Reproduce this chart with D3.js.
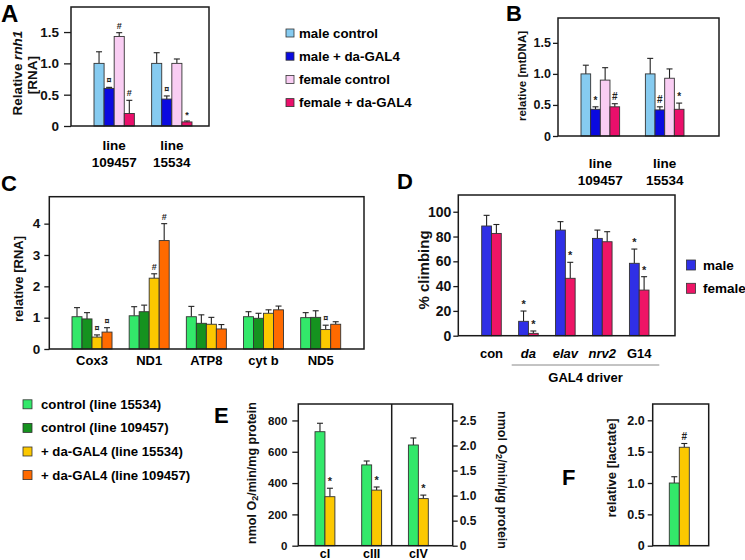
<!DOCTYPE html>
<html><head><meta charset="utf-8">
<script src="https://cdnjs.cloudflare.com/ajax/libs/d3/7.8.5/d3.min.js"></script>
<style>
body{margin:0;background:#fff;}
svg{display:block;font-family:"Liberation Sans",Arial,sans-serif;font-weight:bold;}
</style></head><body>
<script>
// ---------- DATA ----------
// Panels A & B
const sexSeries = ["male control","male + da-GAL4","female control","female + da-GAL4"];
const sexColors = ["#86cbf0","#0a0ae0","#f9cdf3","#ea0f6b"];
const lineTop = ["line","line"];
const lineIds = ["109457","15534"];
const aValues = [[1.0,0.60,1.43,0.20],[1.0,0.43,1.0,0.065]];
const aErr    = [[0.185,0.017,0.06,0.21],[0.17,0.05,0.07,0.015]];
const aMarks  = [["","¤","#","#"],["","¤","","*"]];
const bValues = [[1.0,0.43,0.90,0.47],[1.0,0.42,0.93,0.43]];
const bErr    = [[0.14,0.04,0.20,0.05],[0.25,0.05,0.15,0.10]];
const bMarks  = [["","*","","#"],["","#","","*"]];
const abTicks = [0,0.5,1.0,1.5];

// Panel C
const cCategories = ["Cox3","ND1","ATP8","cyt b","ND5"];
const cSeries = ["control (line 15534)","control (line 109457)","+ da-GAL4 (line 15534)","+ da-GAL4 (line 109457)"];
const cColors = ["#33e86a","#15921f","#fcc800","#ff6a00"];
const cValues = [[1.03,0.96,0.38,0.54],[1.06,1.19,2.26,3.46],[1.03,0.82,0.79,0.64],[1.03,0.98,1.14,1.25],[1.0,1.01,0.62,0.79]];
const cErr    = [[0.29,0.20,0.07,0.14],[0.29,0.21,0.14,0.54],[0.33,0.27,0.22,0.14],[0.16,0.16,0.11,0.12],[0.16,0.21,0.14,0.08]];
const cMarks  = [["","","¤","¤"],["","","#","#"],["","","",""],["","","",""],["","","¤",""]];
const cTicks = [0,1,2,3,4];

// Panel D
const dCategories = ["con","da","elav","nrv2","G14"];
const dItalic = [false,true,true,true,false];
const dSeries = ["male","female"];
const dColors = ["#2f2fe6","#ee1566"];
const dValues = [[88.5,82.5],[11.6,1.9],[85.2,46.3],[78.5,75.8],[58.4,36.8]];
const dErr    = [[8.6,7.2],[8.3,1.9],[6.8,12.9],[6.7,8.1],[11.5,10.8]];
const dMarks  = [["",""],["*","*"],["","*"],["",""],["*","*"]];
const dTicks = [0,20,40,60,80,100];

// Panel E
const eCategories = ["cI","cIII","cIV"];
const eAxisSide = ["left","left","right"];
const eValues = [[728,313],[516,355],[2.01,0.94]];
const eErr    = [[54,54],[25,20],[0.14,0.07]];
const eMarks  = [["","*"],["","*"],["","*"]];
const eLeftTicks = [0,200,400,600,800];
const eRightTicks = [0,0.5,1.0,1.5,2.0,2.5];

// Panel F
const fValues = [[1.0,1.57]];
const fErr    = [[0.10,0.06]];
const fMarks  = [["","#"]];
const fTicks = [0,0.5,1.0,1.5,2.0];
const efColors = ["#33e86a","#fcc800"];

// ---------- DRAWING ----------
const svg = d3.select("body").append("svg").attr("width",745).attr("height",560);
const fmt1 = d => d === 0 ? "0" : d3.format(".1f")(d);
const fmt0 = d => String(d);

function frame(b){
  svg.append("rect").attr("x",b.l).attr("y",b.t).attr("width",b.r-b.l).attr("height",b.b-b.t)
    .attr("fill","none").attr("stroke","#1a1a1a").attr("stroke-width",1.5);
}
function yAxis(y, x, ticks, fmt, size, pad, fs, side){
  const ax = (side === "right" ? d3.axisRight(y) : d3.axisLeft(y))
    .tickValues(ticks).tickFormat(fmt).tickSize(size).tickPadding(pad);
  const g = svg.append("g").attr("transform",`translate(${x},0)`).call(ax);
  g.select(".domain").remove();
  g.selectAll(".tick line").attr("stroke","#1a1a1a").attr("stroke-width",1.3);
  g.selectAll(".tick text").attr("fill","#111").style("font-size",fs+"px")
    .style("font-family",'"Liberation Sans",Arial,sans-serif').style("font-weight","bold");
}
function bars(x0, cats, values, errs, marks, colors, yFor, markSize){
  const x1 = d3.scaleBand().domain(d3.range(values[0].length)).range([0,x0.bandwidth()]).padding(0);
  cats.forEach((c,i)=>{
    const y = yFor(i);
    values[i].forEach((v,j)=>{
      const bx = x0(c)+x1(j), bw = x1.bandwidth(), cx = bx+bw/2;
      const et = y(v+errs[i][j]);
      svg.append("line").attr("x1",cx).attr("x2",cx).attr("y1",y(v)).attr("y2",et)
        .attr("stroke","#222").attr("stroke-width",1.1);
      svg.append("line").attr("x1",cx-3).attr("x2",cx+3).attr("y1",et).attr("y2",et)
        .attr("stroke","#222").attr("stroke-width",1.1);
      svg.append("rect").attr("x",bx).attr("y",y(v)).attr("width",bw).attr("height",y(0)-y(v))
        .attr("fill",colors[j]).attr("stroke","#333").attr("stroke-width",0.9);
      const m = marks[i][j];
      if(m){
        svg.append("text").attr("x",cx).attr("y", m==="*" ? et-3 : et-4)
          .attr("text-anchor","middle").style("font-size",markSize+"px").attr("fill","#222").text(m);
      }
    });
  });
}
function vlabel(x, cy, rot, fs, build){
  const t = svg.append("text").attr("transform",`translate(${x},${cy}) rotate(${rot})`)
    .attr("text-anchor","middle").attr("dominant-baseline","central").style("font-size",fs+"px").attr("fill","#111");
  build(t);
  return t;
}
function letter(txt,x,y,fs){
  svg.append("text").attr("x",x).attr("y",y).style("font-size",(fs||22)+"px").attr("fill","#000").text(txt);
}

// ----- Panel A -----
{
  const b = {l:71,t:7,r:209,b:126};
  const y = d3.scaleLinear().domain([0,1.9]).range([b.b,b.t]);
  const x0 = d3.scaleBand().domain(lineIds).range([94,192]).paddingInner(0.3);
  bars(x0, lineIds, aValues, aErr, aMarks, sexColors, ()=>y, 9);
  frame(b);
  yAxis(y, b.l, abTicks, fmt1, 7, 5, 13.5);
  lineIds.forEach((c,i)=>{
    const cx = x0(c)+x0.bandwidth()/2;
    svg.append("text").attr("x",cx).attr("y",150).attr("text-anchor","middle").style("font-size","13.5px").text(lineTop[i]);
    svg.append("text").attr("x",cx).attr("y",167).attr("text-anchor","middle").style("font-size","13.5px").text(c);
  });
  vlabel(17,73,-90,13.5,t=>{ t.append("tspan").text("Relative "); t.append("tspan").style("font-style","italic").text("rnh1"); });
  vlabel(32,75,-90,13.5,t=>t.text("[RNA]"));
  letter("A",1,22,24);
}
// ----- Legend top -----
sexSeries.forEach((s,i)=>{
  const yy = 33 + i*23.2;
  svg.append("rect").attr("x",286).attr("y",yy-4).attr("width",8).attr("height",8)
    .attr("fill",sexColors[i]).attr("stroke","#333").attr("stroke-width",0.8);
  svg.append("text").attr("x",299).attr("y",yy).attr("dominant-baseline","central").style("font-size","13.3px").text(s);
});
// ----- Panel B -----
{
  const b = {l:558,t:18,r:719,b:136};
  const y = d3.scaleLinear().domain([0,1.9]).range([b.b,b.t]);
  const x0 = d3.scaleBand().domain(lineIds).range([581,684]).paddingInner(0.4);
  bars(x0, lineIds, bValues, bErr, bMarks, sexColors, ()=>y, 10);
  frame(b);
  yAxis(y, b.l, abTicks, fmt1, 5, 2, 12.5);
  lineIds.forEach((c,i)=>{
    const cx = x0(c)+x0.bandwidth()/2;
    svg.append("text").attr("x",cx).attr("y",168).attr("text-anchor","middle").style("font-size","13.5px").text(lineTop[i]);
    svg.append("text").attr("x",cx).attr("y",185).attr("text-anchor","middle").style("font-size","13.5px").text(c);
  });
  vlabel(522,76,-90,11.5,t=>t.text("relative [mtDNA]"));
  letter("B",506,21);
}
// ----- Panel C -----
{
  const b = {l:49.3,t:196.7,r:364,b:349};
  const y = d3.scaleLinear().domain([0,4.86]).range([b.b,b.t]);
  const x0 = d3.scaleBand().domain(cCategories).range([72,340.7]).paddingInner(0.3);
  bars(x0, cCategories, cValues, cErr, cMarks, cColors, ()=>y, 9);
  frame(b);
  yAxis(y, b.l, cTicks, fmt0, 5, 4, 13.5);
  cCategories.forEach(c=>{
    svg.append("text").attr("x",x0(c)+x0.bandwidth()/2).attr("y",365).attr("text-anchor","middle").style("font-size","13px").text(c);
  });
  vlabel(18,279,-90,13,t=>t.text("relative [RNA]"));
  letter("C",1,191);
}
// ----- Panel D -----
{
  const b = {l:458.3,t:195,r:675,b:335.7};
  const y = d3.scaleLinear().domain([0,113.5]).range([b.b,b.t]);
  const x0 = d3.scaleBand().domain(dCategories).range([481.7,649]).paddingInner(0.47);
  bars(x0, dCategories, dValues, dErr, dMarks, dColors, ()=>y, 11);
  frame(b);
  yAxis(y, b.l, dTicks, fmt0, 5, 2, 14);
  dCategories.forEach((c,i)=>{
    svg.append("text").attr("x",x0(c)+x0.bandwidth()/2).attr("y",358).attr("text-anchor","middle")
      .style("font-size","13px").style("font-style",dItalic[i]?"italic":"normal").text(c);
  });
  svg.append("line").attr("x1",511.7).attr("x2",659.3).attr("y1",365).attr("y2",365).attr("stroke","#888").attr("stroke-width",1);
  svg.append("text").attr("x",585.5).attr("y",381.5).attr("text-anchor","middle").style("font-size","13px").text("GAL4 driver");
  vlabel(423,270,-90,15,t=>t.text("% climbing"));
  dSeries.forEach((s,i)=>{
    const yy = 265 + i*23.3;
    svg.append("rect").attr("x",686.5).attr("y",yy-5).attr("width",9).attr("height",10)
      .attr("fill",dColors[i]).attr("stroke","#333").attr("stroke-width",0.8);
    svg.append("text").attr("x",703).attr("y",yy).attr("dominant-baseline","central").style("font-size","13.5px").text(s);
  });
  letter("D",397,189);
}
// ----- Legend bottom -----
cSeries.forEach((s,i)=>{
  const yy = 404.3 + i*23.6;
  svg.append("rect").attr("x",23).attr("y",yy-4.5).attr("width",9).attr("height",9)
    .attr("fill",cColors[i]).attr("stroke","#333").attr("stroke-width",0.8);
  svg.append("text").attr("x",41).attr("y",yy).attr("dominant-baseline","central").style("font-size","13.2px").text(s);
});
// ----- Panel E -----
{
  const b = {l:298.3,t:404,r:452.7,b:545.7};
  const yL = d3.scaleLinear().domain([0,905]).range([b.b,b.t]);
  const yR = d3.scaleLinear().domain([0,905/320]).range([b.b,b.t]);
  const x0 = d3.scaleBand().domain(eCategories).range([315,428.3]).paddingInner(0.574);
  bars(x0, eCategories, eValues, eErr, eMarks, efColors, i=> eAxisSide[i]==="right" ? yR : yL, 11);
  frame(b);
  svg.append("line").attr("x1",391.7).attr("x2",391.7).attr("y1",b.t).attr("y2",b.b).attr("stroke","#1a1a1a").attr("stroke-width",1.5);
  yAxis(yL, b.l, eLeftTicks, fmt0, 6, 5, 11.5);
  yAxis(yR, b.r, eRightTicks, fmt1, 5, 2, 12, "right");
  eCategories.forEach(c=>{
    svg.append("text").attr("x",x0(c)+x0.bandwidth()/2).attr("y",558).attr("text-anchor","middle").style("font-size","12.5px").text(c);
  });
  vlabel(251.7,473,-90,12.5,t=>{
    t.append("tspan").text("nmol O");
    t.append("tspan").attr("dy",3).style("font-size","9px").text("2");
    t.append("tspan").attr("dy",-3).text("/min/mg protein");
  });
  vlabel(501.7,480,90,12.5,t=>{
    t.append("tspan").text("nmol O");
    t.append("tspan").attr("dy",3).style("font-size","9px").text("2");
    t.append("tspan").attr("dy",-3).text("/min/µg protein");
  });
  letter("E",214,423);
}
// ----- Panel F -----
{
  const b = {l:652.7,t:404,r:708.7,b:545.7};
  const y = d3.scaleLinear().domain([0,2.26]).range([b.b,b.t]);
  const x0 = d3.scaleBand().domain(["lactate"]).range([669.3,689.3]);
  bars(x0, ["lactate"], fValues, fErr, fMarks, efColors, ()=>y, 10);
  frame(b);
  yAxis(y, b.l, fTicks, fmt1, 5, 3, 12.5);
  vlabel(611.7,468,-90,13,t=>t.text("relative [lactate]"));
  letter("F",562,485);
}
</script></body></html>
